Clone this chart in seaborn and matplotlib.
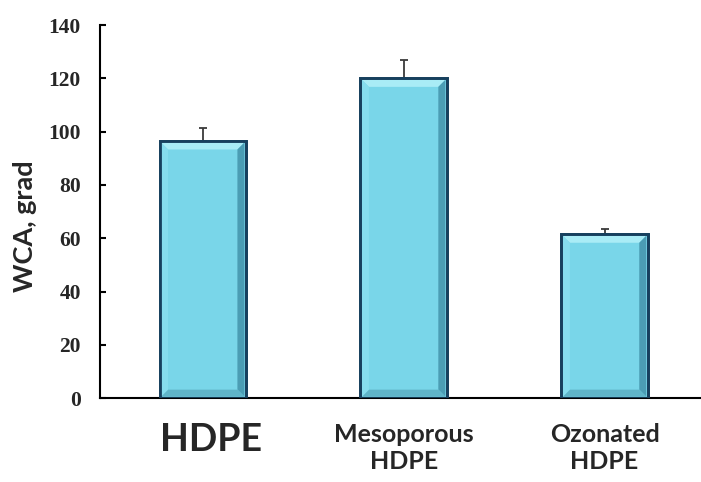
import matplotlib
matplotlib.use("Agg")
import matplotlib.pyplot as plt
from matplotlib.patches import Polygon
from matplotlib.transforms import ScaledTranslation
import seaborn as sns
import pandas as pd
import numpy as np

categories = ["HDPE", "Mesoporous\nHDPE", "Ozonated\nHDPE"]
wca = [96.5, 120.0, 61.5]
err = [5.0, 7.0, 2.0]
yticks = [0, 20, 40, 60, 80, 100, 120, 140]

sns.set_theme(style="white")
plt.rcParams['font.family'] = ['Lato', 'DejaVu Sans']

df = pd.DataFrame({"cat": categories, "wca": wca})

fig = plt.figure(figsize=(7.01, 4.82), dpi=100)
ax = fig.add_axes([0.143, 0.174, 0.857, 0.774])

xs = np.arange(len(categories))
ax.errorbar(xs, wca, yerr=[np.zeros(len(err)), err], fmt="none",
            ecolor="#3a3a3a", elinewidth=1.3, capsize=2.7, capthick=1.3, zorder=1)

sns.barplot(data=df, x="cat", y="wca", ax=ax, color="#79D6E9",
            saturation=1, width=0.43, edgecolor="#17405E", linewidth=2, zorder=2)

ax.set_ylim(0, 140)
ax.set_xlim(-0.51, 2.48)

# bevel effect derived from bar geometry
fig.canvas.draw()
inv = ax.transData.inverted()
b = 7  # bevel width in pixels
for p in list(ax.patches):
    x0, y0 = p.get_x(), p.get_y()
    x1, y1 = x0 + p.get_width(), y0 + p.get_height()
    (X0, Y0), (X1, Y1) = ax.transData.transform([(x0, y0), (x1, y1)])
    X0 += 1.5; X1 -= 1.5; Y0 += 1.5; Y1 -= 1.5
    outer = [(X0, Y0), (X1, Y0), (X1, Y1), (X0, Y1)]
    inner = [(X0 + b, Y0 + b), (X1 - b, Y0 + b), (X1 - b, Y1 - b), (X0 + b, Y1 - b)]
    sides = {
        "top": ([outer[3], outer[2], inner[2], inner[3]], "#A9ECF6"),
        "right": ([outer[1], outer[2], inner[2], inner[1]], "#4B9DB4"),
        "bottom": ([outer[0], outer[1], inner[1], inner[0]], "#5FB4C8"),
        "left": ([outer[0], outer[3], inner[3], inner[0]], "#86DDEE"),
    }
    for pts, col in sides.values():
        dpts = inv.transform(pts)
        ax.add_patch(Polygon(dpts, closed=True, facecolor=col, edgecolor="none", zorder=2.5))
    ax.add_patch(plt.Rectangle((x0, y0), x1 - x0, y1 - y0, fill=False,
                               edgecolor="#17405E", linewidth=2, zorder=2.6))

ax.set_yticks(yticks)
ax.set_yticklabels([str(t) for t in yticks], fontfamily="Liberation Serif",
                   fontweight="bold", fontsize=15.5)
ax.tick_params(axis="y", direction="in", length=4.5, width=1.5, pad=14, color="black", left=True)
ax.tick_params(axis="x", length=0, pad=18)

ax.set_xticks(xs)
ax.set_xticklabels(categories, fontweight="bold", fontsize=18, linespacing=1.2, va="top")
lbls = ax.get_xticklabels()
lbls[0].set_fontsize(27)
lbls[0].set_transform(lbls[0].get_transform() + ScaledTranslation(0.08, 0, fig.dpi_scale_trans))

ax.set_xlabel("")
ax.set_ylabel("WCA, grad", fontweight="bold", fontsize=19.5)
ax.yaxis.set_label_coords(-0.106, 0.46)

for s in ["top", "right"]:
    ax.spines[s].set_visible(False)
for s in ["left", "bottom"]:
    ax.spines[s].set_color("black")
    ax.spines[s].set_linewidth(1.5)

fig.savefig("out.png", dpi=100)
